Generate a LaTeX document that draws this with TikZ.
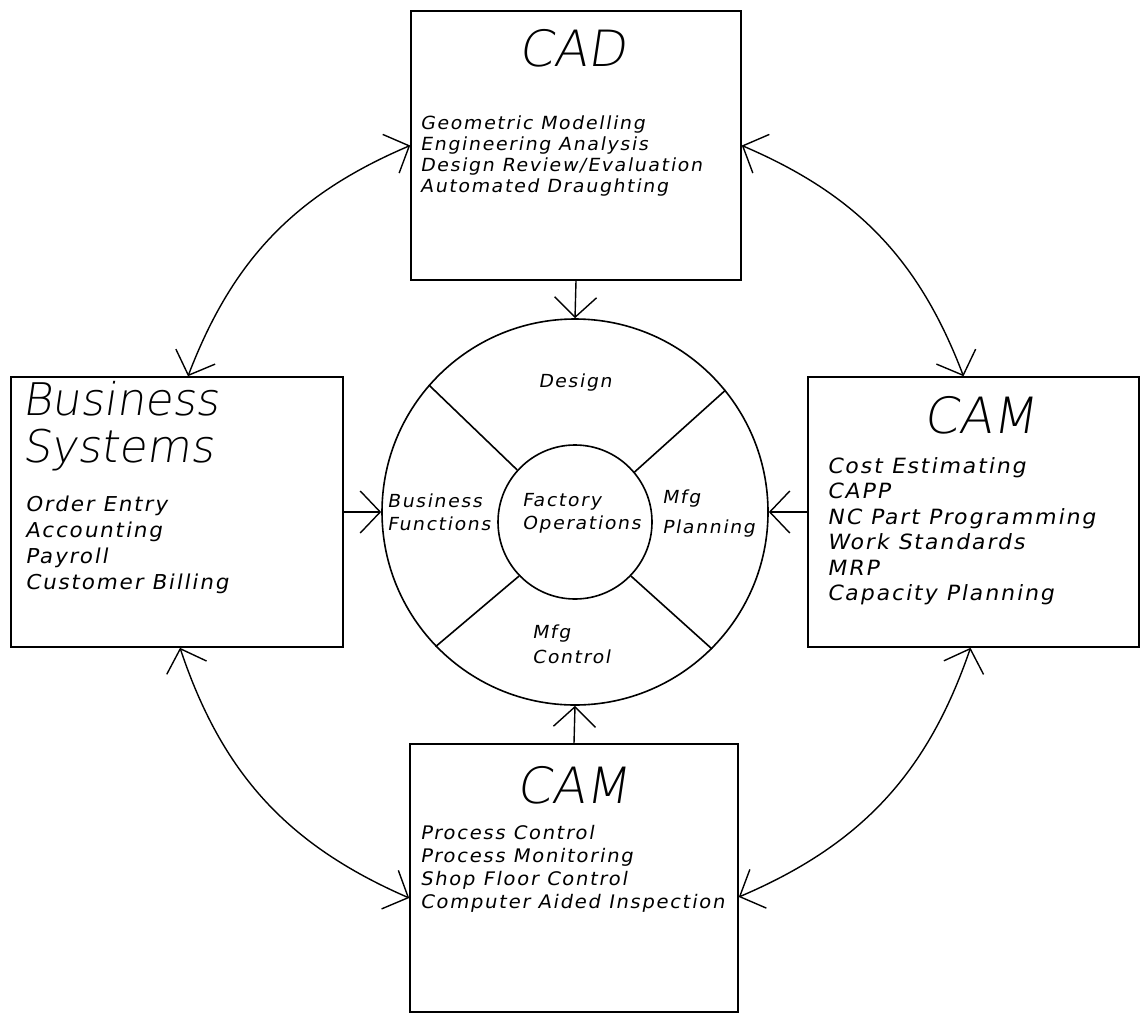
\documentclass[tikz,border=0pt]{standalone}
\usepackage{fontspec}
\usetikzlibrary{arrows.meta}
% thin slanted stroke-style lettering
\newfontfamily\itemfont{DejaVu Sans}[FakeSlant=0.18,FakeStretch=1.05,LetterSpace=9]
\newfontfamily\headfont{DejaVu Sans ExtraLight}[FakeSlant=0.15]

\begin{document}
\begin{tikzpicture}[x=1pt,y=-1pt,
  box/.style={draw, line width=1.6pt, inner sep=0pt},
  ring/.style={draw, circle, line width=1.6pt, inner sep=0pt},
  spoke/.style={line width=1.6pt},
  barb/.tip={Straight Barb[length=20pt,width=42pt]},
  feed/.style={line width=1.4pt, -barb},
  link/.style={line width=1.4pt, barb-barb},
  head/.style={anchor=base, inner sep=0pt},
  item/.style={anchor=north west, align=left, inner sep=0pt},
]
\useasboundingbox (0,0) rectangle (1142,1014);

% the four system boxes
\node[box, minimum width=330pt, minimum height=269pt] (cad)  at (576,145.5) {};
\node[box, minimum width=332pt, minimum height=270pt] (bus)  at (177,512) {};
\node[box, minimum width=331pt, minimum height=270pt] (camr) at (973.5,512) {};
\node[box, minimum width=328pt, minimum height=268pt] (camb) at (574,878) {};

% central wheel
\node[ring, minimum size=386pt] (outer) at (575,512) {};
\node[ring, minimum size=154pt] (inner) at (575,522) {};
\draw[spoke] (outer.139) -- (inner.138);
\draw[spoke] (outer.39)  -- (inner.40);
\draw[spoke] (outer.224) -- (inner.224);
\draw[spoke] (outer.315) -- (inner.316);

% feeds into the wheel
\draw[feed] (cad.south) -- (outer.north);
\draw[feed] (bus.east)  -- (outer.west);
\draw[feed] (camr.west) -- (outer.east);
\draw[feed] (camb.north) -- (outer.south);

% links between neighbouring systems (arcs round the wheel)
\draw[link] (cad.west) to[bend right=23] ([xshift=11pt]bus.north);
\draw[link] (cad.east) to[bend left=23] ([xshift=-10pt]camr.north);
\draw[link] ([xshift=3pt]bus.south) to[bend right=24] ([yshift=-20pt]camb.west);
\draw[link] ([xshift=-3pt]camr.south) to[bend left=24] ([yshift=-19pt]camb.east);

% box headings
\node[head, font=\headfont\fontsize{50}{50}\selectfont] (cadt)  at (572,67)  {CAD};
\node[head, font=\headfont\fontsize{50}{50}\selectfont] (camrt) at (980,433) {CAM};
\node[head, font=\headfont\fontsize{50}{50}\selectfont] (cambt) at (573,803) {CAM};
\node[anchor=base west, inner sep=0pt, font=\headfont\fontsize{45}{45}\selectfont] (bust1) at (22,415) {Business};
\node[anchor=base west, inner sep=0pt, font=\headfont\fontsize{45}{45}\selectfont] (bust2) at (22,462) {Systems};

% box contents
\node[item, font=\itemfont\fontsize{18.1}{21}\selectfont] (cadl) at (420,115.2)
  {Geometric Modelling\\Engineering Analysis\\Design Review/Evaluation\\Automated Draughting};
\node[item, font=\itemfont\fontsize{20.5}{26}\selectfont] (busl) at (25,495.4)
  {Order Entry\\Accounting\\Payroll\\Customer Billing};
\node[item, font=\itemfont\fontsize{21}{25.5}\selectfont] (camrl) at (827,457)
  {Cost Estimating\\CAPP\\NC Part Programming\\Work Standards\\MRP\\Capacity Planning};
\node[item, font=\itemfont\fontsize{18.7}{23}\selectfont] (cambl) at (420,824.8)
  {Process Control\\Process Monitoring\\Shop Floor Control\\Computer Aided Inspection};

% wheel labels
\node[head, font=\itemfont\fontsize{18}{20}\selectfont] (wdes) at (575,387) {Design};
\node[item, font=\itemfont\fontsize{18}{23}\selectfont] (wbus) at (387,493.3) {Business\\Functions};
\node[item, font=\itemfont\fontsize{18}{23}\selectfont] (wfac) at (522,493.3) {Factory\\Operations};
\node[item, font=\itemfont\fontsize{18}{30}\selectfont] (wpla) at (662,489.3) {Mfg\\Planning};
\node[item, font=\itemfont\fontsize{18}{25}\selectfont] (wcon) at (532,624.3) {Mfg\\Control};
\end{tikzpicture}
\end{document}
